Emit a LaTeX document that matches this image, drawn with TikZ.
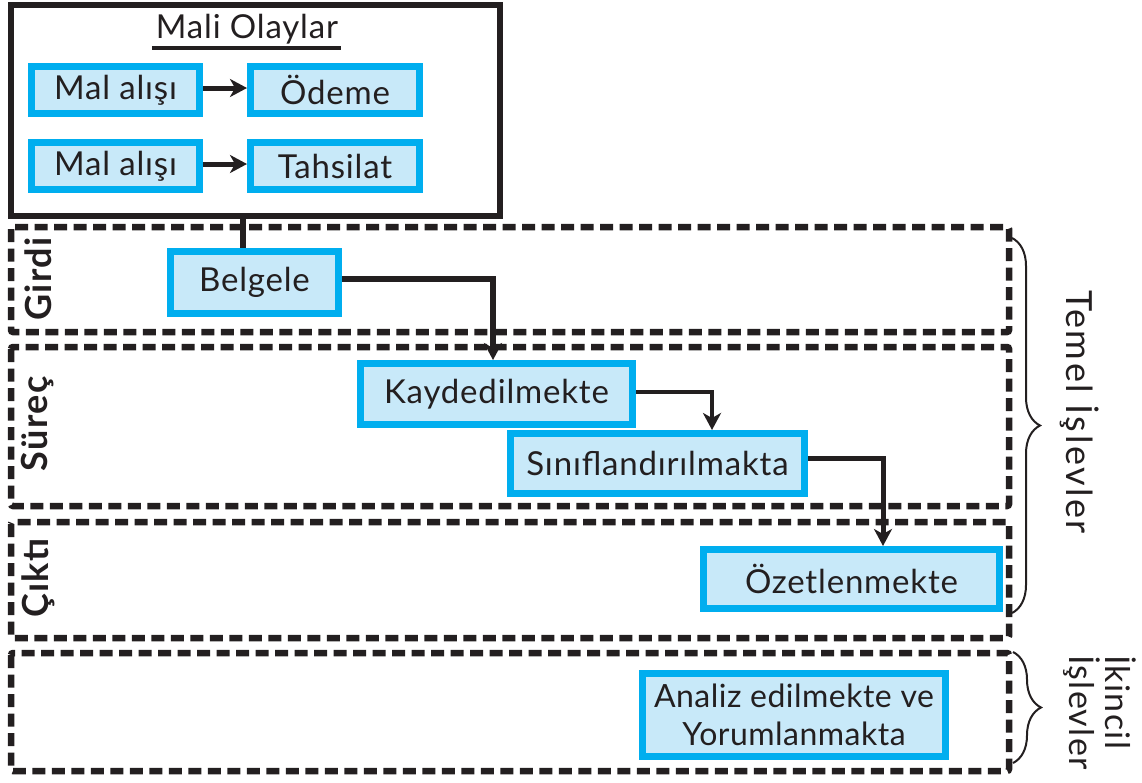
\documentclass[tikz,border=0pt]{standalone}
\usepackage{fontspec}
\setmainfont{Lato}
\usetikzlibrary{arrows.meta,calc,decorations.pathreplacing}
\definecolor{boxcyan}{HTML}{00AEEF}
\definecolor{boxfill}{HTML}{C8E9F9}
\definecolor{ink}{HTML}{231F20}

\begin{document}
\begin{tikzpicture}[x=1pt,y=-1pt,
  every node/.style={text=ink},
  boxsize/.style 2 args={minimum width={#1pt-7pt}, minimum height={#2pt-7pt}},
  boxfont/.style={font=\fontsize{33}{39}\selectfont\addfontfeature{LetterSpace=2.5}},
  cbox/.style={draw=boxcyan, fill=boxfill, line width=7pt, inner sep=0pt, boxfont},
  band/.style={draw=ink, line width=6.5pt, dash pattern=on 13pt off 6.5pt, rounded corners=2pt},
  link/.style={draw=ink, line width=5pt},
  arr/.style={link, -{Stealth[length=17pt,width=18pt,inset=5pt]}},
  sidelab/.style={rotate=90, font=\fontsize{36}{40}\selectfont\bfseries\addfontfeature{LetterSpace=4}},
  grouplab/.style={rotate=-90, align=left, inner sep=0pt,
    font=\fontsize{36}{37}\selectfont\addfontfeature{LetterSpace=7}},
  brc/.style={decorate, decoration={brace, amplitude=28pt}, draw=ink, line width=2pt},
]
\useasboundingbox (0,0) rectangle (1142,782);

% dashed stages
\draw[band] (11,227) rectangle (1009,332);
\draw[band] (11,347) rectangle (1009,506);
\draw[band] (11,522) rectangle (1009,638);
\draw[band] (11,653) rectangle (1009,771);

\node[sidelab] (girdi) at (38,279) {Girdi};
\node[sidelab] (surec) at (38,424) {Süreç};
\node[sidelab] (cikti) at (38,578) {Çıktı};

% financial events
\node[draw=ink, line width=6pt, minimum width=489pt, minimum height=211pt, inner sep=0pt] (mali) at (255.5,110.5) {};
\node[inner sep=0pt, anchor=base, boxfont] (title) at (247,38) {Mali Olaylar};
\draw[line width=4pt, ink] ([xshift=-4pt,yshift=-10pt]title.base west) -- ([xshift=3pt,yshift=-10pt]title.base east);

\node[cbox, boxsize={175}{54}] (m1) at (115.5,90) {Mal alışı};
\node[cbox, boxsize={176}{54}] (od) at (335,90) {Ödeme};
\node[cbox, boxsize={175}{54}] (m2) at (115.5,166) {Mal alışı};
\node[cbox, boxsize={176}{54}] (ta) at (335,166) {Tahsilat};

\draw[arr] ([yshift=2pt]m1.east) -- ([yshift=2pt]od.west);
\draw[arr] ([yshift=2pt]m2.east) -- ([yshift=2pt]ta.west);

% basic functions
\node[cbox, boxsize={175}{69}] (belgele) at (254.5,282.5) {Belgele};
\node[cbox, boxsize={279}{68}] (kayd) at (496.5,394) {Kaydedilmekte};
\node[cbox, boxsize={301}{67}] (sinif) at (657.5,463.5) {Sınıflandırılmakta};
\node[cbox, boxsize={303}{66}] (ozet) at (851.5,579) {Özetlenmekte};
\node[cbox, boxsize={310}{90}, align=center,
  font=\fontsize{32}{38}\selectfont\addfontfeature{LetterSpace=1.5}] (analiz) at (794,715) {Analiz edilmekte ve\\Yorumlanmakta};

\draw[link, line width=6pt] ([xshift=-12.5pt]mali.south) -- ([xshift=-12.5pt]mali.south |- belgele.north);
\draw[arr, line width=6pt] ([yshift=4pt]belgele.east) -| ([xshift=-3.5pt]kayd.north);
\draw[arr, line width=4pt] ([yshift=2pt]kayd.east) -| ([xshift=54.5pt]sinif.north);
\draw[arr, line width=5pt] ([yshift=5.5pt]sinif.east) -| ([xshift=31.5pt]ozet.north);

% groupings
\draw[brc] (1012,238) -- (1012,613);
\node[grouplab, anchor=center] (temel) at (1080,412) {Temel İşlevler};
\draw[brc] (1013,652) -- (1013,763);
\node[grouplab, anchor=west, font=\fontsize{34}{36}\selectfont\addfontfeature{LetterSpace=4}] (ikincil) at (1100,655) {İkincil\\İşlevler};
\end{tikzpicture}
\end{document}
